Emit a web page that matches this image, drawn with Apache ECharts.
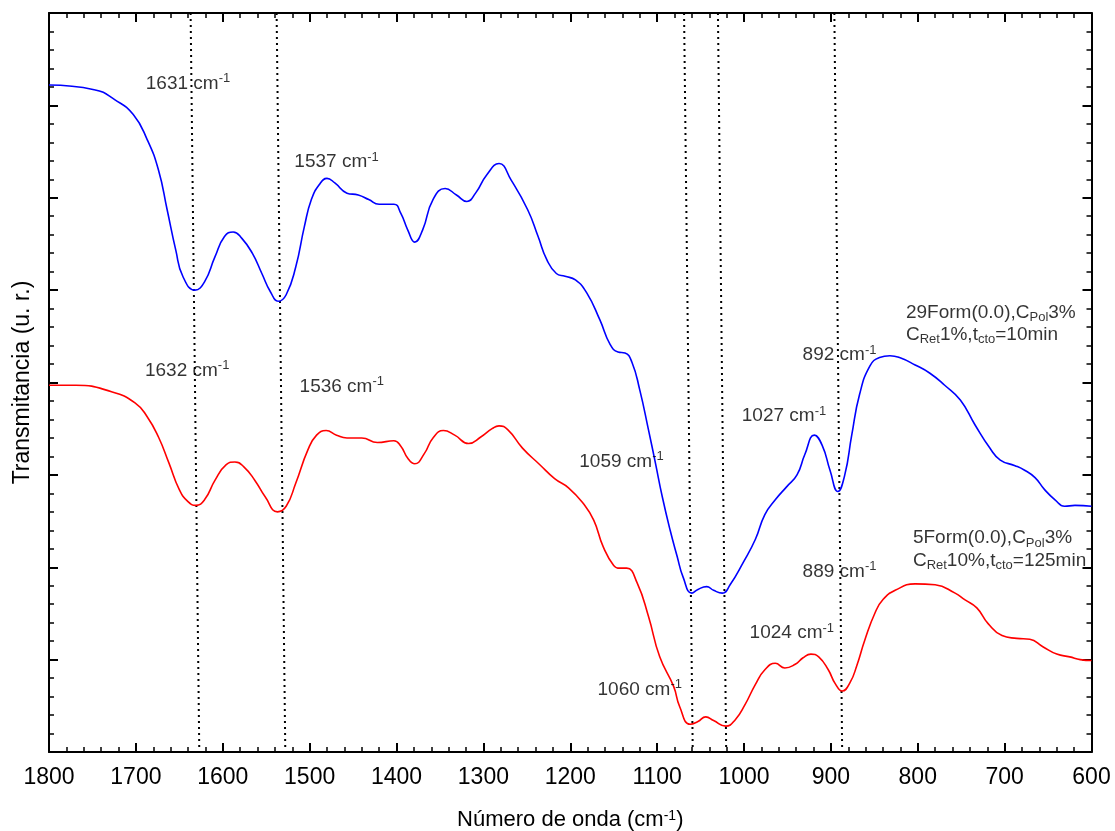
<!DOCTYPE html>
<html>
<head>
<meta charset="utf-8">
<script src="https://cdn.jsdelivr.net/npm/echarts@6/dist/echarts.min.js"></script>
<style>
  html, body { margin: 0; padding: 0; background: #fff; }
  #chart { width: 1115px; height: 831px; }
</style>
</head>
<body>
<div id="chart"></div>
<script>
// FTIR spectra: wavenumber (cm-1) vs transmittance (arbitrary units, offset traces)
const spectrum29Form = [
  [1800,7.22],[1748,7.17],[1724,7.06],[1703,6.90],[1687,6.63],[1674,6.30],[1664,5.87],[1654,5.43],
  [1646,5.15],[1632,5.00],[1621,5.09],[1609,5.36],[1598,5.58],[1588,5.63],[1578,5.56],[1566,5.40],
  [1555,5.18],[1545,4.98],[1536,4.88],[1527,4.95],[1516,5.25],[1506,5.69],[1498,5.98],[1489,6.14],
  [1480,6.21],[1471,6.16],[1457,6.05],[1444,6.03],[1432,5.98],[1420,5.93],[1403,5.93],[1395,5.83],
  [1387,5.65],[1379,5.52],[1370,5.65],[1358,5.98],[1344,6.10],[1331,6.03],[1319,5.96],[1309,6.05],
  [1296,6.25],[1282,6.37],[1268,6.19],[1249,5.87],[1237,5.58],[1227,5.33],[1216,5.18],[1206,5.15],
  [1194,5.11],[1181,4.97],[1166,4.68],[1154,4.41],[1145,4.33],[1137,4.32],[1129,4.22],[1120,3.92],
  [1110,3.49],[1102,3.13],[1094,2.76],[1085,2.40],[1077,2.12],[1070,1.89],[1060,1.72],[1053,1.76],
  [1043,1.79],[1035,1.75],[1025,1.72],[1016,1.81],[1001,2.05],[987,2.30],[976,2.57],[964,2.73],
  [951,2.87],[939,3.00],[930,3.22],[919,3.43],[910,3.32],[901,3.05],[892,2.82],[884,3.00],
  [876,3.43],[867,3.87],[855,4.18],[844,4.27],[832,4.29],[821,4.27],[803,4.19],[786,4.10],
  [769,3.97],[751,3.81],[734,3.54],[717,3.29],[705,3.16],[688,3.10],[677,3.05],[665,2.97],
  [654,2.84],[642,2.73],[631,2.66],[619,2.67],[600,2.66]
];

const spectrum5Form = [
  [1800,3.97],[1769,3.97],[1728,3.90],[1701,3.78],[1687,3.63],[1674,3.41],[1662,3.13],[1650,2.84],
  [1640,2.71],[1631,2.67],[1621,2.73],[1609,2.94],[1596,3.11],[1586,3.14],[1576,3.09],[1563,2.94],
  [1551,2.76],[1537,2.60],[1527,2.66],[1516,2.91],[1502,3.27],[1492,3.43],[1481,3.48],[1469,3.43],
  [1457,3.40],[1440,3.40],[1422,3.35],[1403,3.37],[1395,3.31],[1387,3.18],[1379,3.12],[1368,3.23],
  [1358,3.40],[1346,3.48],[1333,3.43],[1317,3.34],[1303,3.41],[1290,3.50],[1282,3.53],[1272,3.49],
  [1255,3.29],[1235,3.11],[1218,2.96],[1202,2.86],[1185,2.69],[1173,2.51],[1162,2.22],[1150,2.02],
  [1143,1.99],[1135,1.99],[1123,1.83],[1110,1.47],[1097,1.03],[1081,0.71],[1074,0.49],[1062,0.30],
  [1053,0.33],[1044,0.38],[1035,0.34],[1021,0.28],[1010,0.35],[999,0.51],[987,0.73],[976,0.89],
  [964,0.96],[953,0.91],[941,0.95],[932,1.02],[923,1.06],[914,1.03],[903,0.89],[895,0.74],
  [887,0.66],[878,0.75],[870,0.94],[861,1.21],[849,1.51],[840,1.65],[826,1.75],[803,1.82],
  [780,1.81],[757,1.72],[746,1.65],[732,1.56],[719,1.39],[703,1.26],[686,1.23],[671,1.22],
  [656,1.14],[640,1.06],[625,1.03],[613,1.00],[600,0.99]
];

// Band guide lines: wavenumber where each dotted guide meets the top and bottom frame
const guideTopWn    = [1637, 1538, 1069, 1030, 896];
const guideBottomWn = [1627, 1528, 1059, 1020.5, 887];

// Band annotations (text) and sample descriptions
const bandLabels = ['1631', '1537', '1632', '1536', '1059', '1060', '1027', '1024', '892', '889'];
const sampleLines = [
  '{n|29Form(0.0),C}{sub|Pol}{n|3%}',
  '{n|C}{sub|Ret}{n|1%,t}{sub|cto}{n|=10min}',
  '{n|5Form(0.0),C}{sub|Pol}{n|3%}',
  '{n|C}{sub|Ret}{n|10%,t}{sub|cto}{n|=125min}'
];

// Axis ticks
const xMin = 600, xMax = 1800, xStep = 100;
const yMin = 0, yMax = 8, yStep = 1;

// Layout: anchor (left edge, vertical middle) of each text in data coordinates
const bandLabelAnchors = [
  [1688, 7.23], [1517, 6.38], [1689, 4.12], [1511, 3.95], [1189, 3.14],
  [1168, 0.67], [1002, 3.63], [993, 1.28], [932, 4.29], [932, 1.95]
];
const sampleLineAnchors = [[813, 4.75], [813, 4.51], [805, 2.31], [805, 2.07]];

const FONT = '"Liberation Sans", Arial, Helvetica, sans-serif';
const richText = {
  n:   { fontSize: 19, fontFamily: FONT, color: '#000', lineHeight: 23 },
  sup: { fontSize: 13, fontFamily: FONT, color: '#000', lineHeight: 13, verticalAlign: 'top' },
  sub: { fontSize: 13, fontFamily: FONT, color: '#000', lineHeight: 15, verticalAlign: 'bottom' }
};

const tickCommon = {
  axisLine: { show: true, onZero: false, lineStyle: { color: '#000', width: 2 } },
  axisTick: { show: true, inside: true, length: 9, lineStyle: { color: '#000', width: 2 } },
  minorTick: { show: true, splitNumber: 5, length: 5, lineStyle: { color: '#000', width: 1.5 } },
  splitLine: { show: false },
  minorSplitLine: { show: false }
};

const textSeries = (texts, anchors, name) => ({
  type: 'scatter',
  name: name,
  silent: true,
  symbolSize: 1,
  itemStyle: { color: 'rgba(0,0,0,0)' },
  z: 10,
  data: texts.map((t, i) => ({ value: anchors[i], txt: t })),
  label: {
    show: true,
    position: [0, 0],
    align: 'left',
    verticalAlign: 'middle',
    color: '#000',
    formatter: p => p.data.txt,
    rich: richText
  }
});

const guideSeries = guideTopWn.map((wTop, i) => ({
  type: 'line',
  silent: true,
  symbol: 'none',
  z: 3,
  lineStyle: { color: '#000', width: 2, type: [2, 4] },
  data: [[wTop, yMax], [guideBottomWn[i], yMin]]
}));

const chart = echarts.init(document.getElementById('chart'), null, { renderer: 'canvas' });
chart.setOption({
  animation: false,
  backgroundColor: '#fff',
  grid: { left: 49, right: 23.5, top: 13, bottom: 79, outerBoundsMode: 'none', containLabel: false },
  xAxis: [
    Object.assign({
      type: 'value', position: 'bottom', inverse: true,
      min: xMin, max: xMax, interval: xStep,
      axisLabel: {
        show: true, margin: 14, fontSize: 23, fontFamily: FONT, color: '#000',
        formatter: v => String(v)
      },
      name: 'Número de onda (cm{sup|-1})',
      nameLocation: 'middle', nameGap: 57,
      nameTextStyle: {
        fontSize: 22, fontFamily: FONT, color: '#000',
        rich: {
          sup: { fontSize: 14, fontFamily: FONT, color: '#000', lineHeight: 14, verticalAlign: 'top' }
        }
      }
    }, tickCommon),
    Object.assign({
      type: 'value', position: 'top', inverse: true,
      min: xMin, max: xMax, interval: xStep,
      axisLabel: { show: false }
    }, tickCommon)
  ],
  yAxis: [
    Object.assign({
      type: 'value', position: 'left',
      min: yMin, max: yMax, interval: yStep,
      axisLabel: { show: false },
      name: 'Transmitancia (u. r.)',
      nameLocation: 'middle', nameGap: 15,
      nameTextStyle: { fontSize: 23, fontFamily: FONT, color: '#000' }
    }, tickCommon),
    Object.assign({
      type: 'value', position: 'right',
      min: yMin, max: yMax, interval: yStep,
      axisLabel: { show: false }
    }, tickCommon)
  ],
  series: [
    {
      type: 'line', name: '29Form', data: spectrum29Form,
      symbol: 'none', smooth: 0.5, silent: true, z: 5,
      lineStyle: { color: '#0000ff', width: 1.6 }
    },
    {
      type: 'line', name: '5Form', data: spectrum5Form,
      symbol: 'none', smooth: 0.5, silent: true, z: 5,
      lineStyle: { color: '#ff0000', width: 1.6 }
    },
    ...guideSeries,
    textSeries(bandLabels.map(b => '{n|' + b + ' cm}{sup|-1}'), bandLabelAnchors, 'bands'),
    textSeries(sampleLines, sampleLineAnchors, 'samples')
  ]
});
</script>
</body>
</html>
